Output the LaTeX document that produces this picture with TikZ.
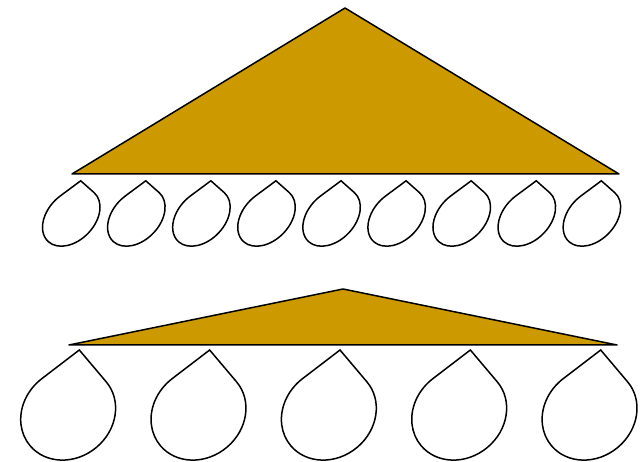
\documentclass[tikz,border=0pt]{standalone}
\begin{document}
\definecolor{roofgold}{HTML}{CC9900}
\tikzset{
  roof/.style={draw=black, line width=1.5pt, line join=round, fill=roofgold},
  dropline/.style={draw=black, line width=1.5pt, fill=white, line join=miter}
}
% \tdrop{cx}{cy}{a}{b}{phi}{tip dx}{tip dy}  (tip relative to centre, y up)
\newcommand\tdrop[7]{%
  \pgfmathsetmacro\du{(#6*cos(#5)+#7*sin(#5))/#3}%
  \pgfmathsetmacro\dv{(-#6*sin(#5)+#7*cos(#5))/#4}%
  \pgfmathsetmacro\dth{atan2(\dv,\du)}%
  \pgfmathsetmacro\dal{acos(1/veclen(\du,\dv))}%
  \begin{scope}[shift={(#1,#2)}, rotate=#5, xscale=#3, yscale=#4]
    \draw[dropline] (\du,\dv) -- (\dth-\dal:1)
      arc[start angle=\dth-\dal, end angle=\dth+\dal-360, radius=1] -- cycle;
  \end{scope}
}
\begin{tikzpicture}[x=1pt,y=1pt]
  \useasboundingbox (0,0) rectangle (642,462);
  % top roof
  \coordinate (ta) at (345,454);
  \coordinate (tl) at (72,288);
  \coordinate (tr) at (619,288);
  \draw[roof] (tl) -- (ta) -- (tr) -- cycle;
  % bottom roof
  \coordinate (ba) at (343,173);
  \coordinate (bl) at (69,117);
  \coordinate (br) at (617,117);
  \draw[roof] (bl) -- (ba) -- (br) -- cycle;
  % small drops
  \foreach \i in {0,...,8}{
    \tdrop{71.25+65.08*\i}{244.8}{33.55}{23.3}{45.7}{9.45}{36.4}
  }
  % large drops
  \foreach \i in {0,...,4}{
    \tdrop{68.15+130.35*\i}{48.2}{49.7}{43.9}{39.3}{11.15}{63.8}
  }
\end{tikzpicture}
\end{document}
